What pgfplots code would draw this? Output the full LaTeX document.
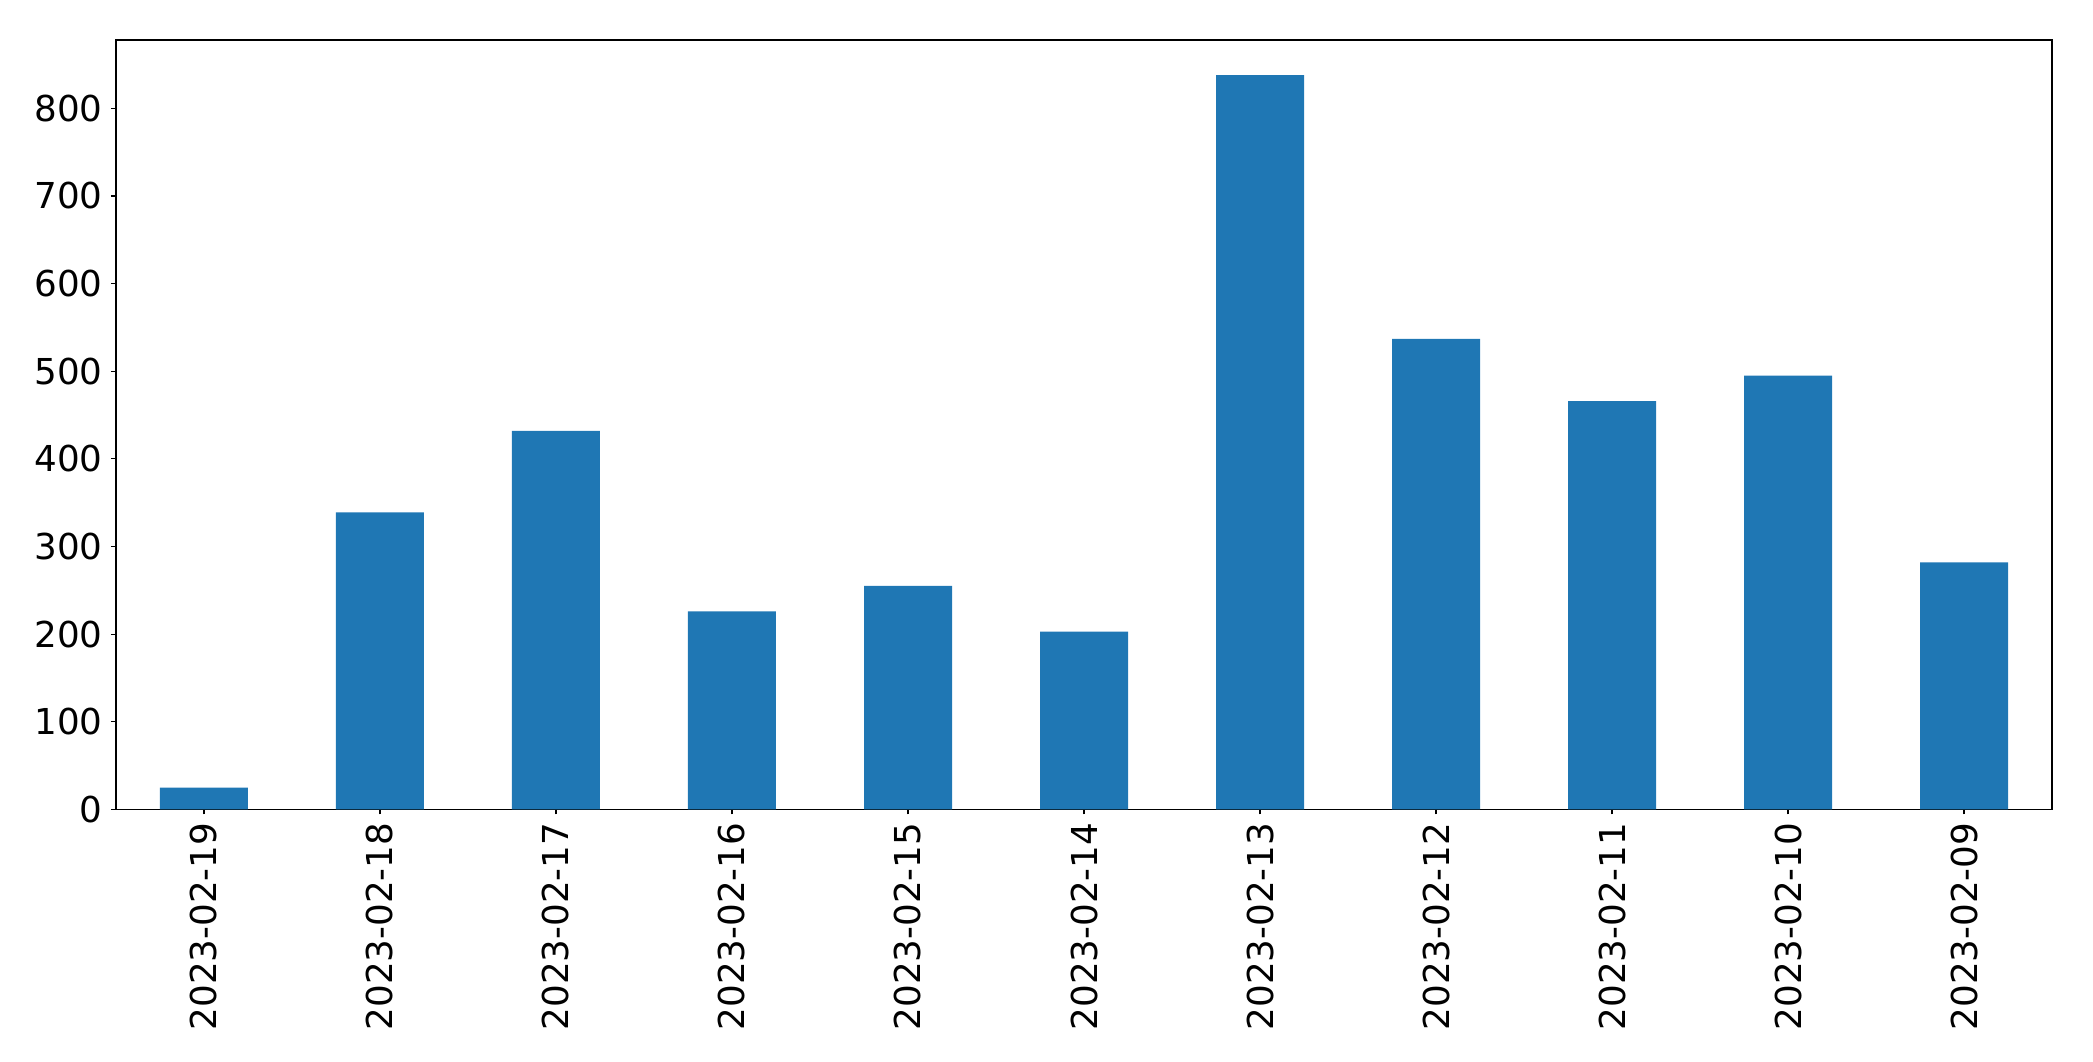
\documentclass[border=0pt]{standalone}
\usepackage{pgfplots}
\pgfplotsset{compat=1.18}
\usepackage{fontspec}
\setmainfont{DejaVu Sans}
\definecolor{mplblue}{HTML}{1F77B4}
\begin{document}
\begin{tikzpicture}
\begin{axis}[
  at={(0,0)}, anchor=south west,
  scale only axis,
  width=1394pt, height=554pt,
  xmin=-0.5, xmax=10.5,
  ymin=0, ymax=878,
  xtick={0,1,2,3,4,5,6,7,8,9,10},
  xticklabels={2023-02-19,2023-02-18,2023-02-17,2023-02-16,2023-02-15,2023-02-14,2023-02-13,2023-02-12,2023-02-11,2023-02-10,2023-02-09},
  ytick={0,100,200,300,400,500,600,700,800},
  tick pos=left,
  tick align=outside,
  major tick length=3.6pt,
  axis line style={line width=0.8pt},
  every tick/.style={line width=0.8pt, black},
  tick label style={font=\fontsize{25.7}{30}\selectfont},
  /pgf/number format/assume math mode=true,
  xticklabel style={rotate=90, anchor=east, inner sep=0pt, xshift=0pt, yshift=0pt},
  yticklabel style={inner sep=0pt, xshift=-5.8pt},
  xticklabel shift=5.8pt,
  scaled y ticks=false,
]
\addplot[ybar, bar width=0.5, bar shift=0pt, fill=mplblue, draw=none] coordinates {
(0,25) (1,339) (2,432) (3,226) (4,255) (5,203) (6,838) (7,537) (8,466) (9,495) (10,282)
};
\end{axis}
\path[use as bounding box] (-83.5pt,-181.2pt) rectangle (1423.5pt,582.8pt);
\end{tikzpicture}
\end{document}
